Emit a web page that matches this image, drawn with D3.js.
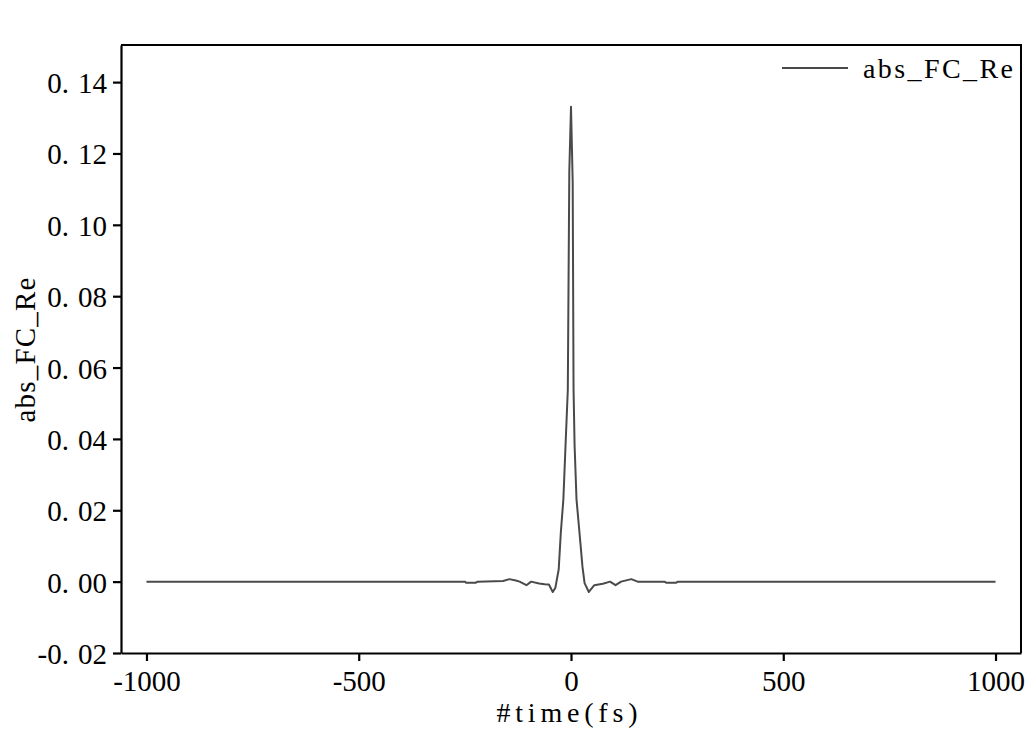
<!DOCTYPE html>
<html>
<head>
<meta charset="utf-8">
<script src="https://cdn.jsdelivr.net/npm/d3@7"></script>
<style>
  html, body { margin: 0; padding: 0; background: #fff; }
  svg { display: block; }
  text { font-family: "Liberation Serif", "DejaVu Serif", serif; fill: #000; }
</style>
</head>
<body>
<svg id="chart" width="1034" height="731"></svg>
<script>
// ---- data ----
const time = [-1000, -250, -247, -224, -220, -160, -145, -130, -121, -105, -94, -75, -62, -52, -43, -37, -29, -24, -18, -13, -7.5, -4, 0, 4, 6, 8.5, 13, 20, 27, 32, 42, 55, 75, 92, 105, 118, 142, 157, 220, 224, 248, 252, 1000];
const absFCRe = [0, 0, -0.0003, -0.0003, 0, 0.0002, 0.0007, 0.0003, 0.0000, -0.0010, 0.0000, -0.0005, -0.0007, -0.0008, -0.0029, -0.0018, 0.0034, 0.0137, 0.0230, 0.0378, 0.0538, 0.1150, 0.1331, 0.1120, 0.0540, 0.0380, 0.0230, 0.0137, 0.0042, -0.0004, -0.0029, -0.0010, -0.0006, 0.0000, -0.0010, 0.0000, 0.0007, 0.0000, 0, -0.0003, -0.0003, 0, 0];
const xTicks = [-1000, -500, 0, 500, 1000];
const yTicks = [-0.02, 0.00, 0.02, 0.04, 0.06, 0.08, 0.10, 0.12, 0.14];
const seriesName = "abs_FC_Re";
const xTitle = "#time(fs)";
const yTitle = "abs_FC_Re";

// ---- layout ----
const L = 121, R = 1021, T = 45, B = 653;
const svg = d3.select("#chart");
const x = d3.scaleLinear().domain([-1060, 1060]).range([L, R]);
const y = d3.scaleLinear().domain([-0.02, 0.1504]).range([B, T]);

// frame (top + right)
svg.append("path")
  .attr("d", `M${L},${T}H${R}V${B}`)
  .attr("fill", "none").attr("stroke", "#000").attr("stroke-width", 2);

// x axis
const gx = svg.append("g").attr("transform", `translate(0,${B})`)
  .call(d3.axisBottom(x).tickValues(xTicks).tickSize(8).tickSizeOuter(0).tickFormat(() => ""));
gx.select(".domain").attr("stroke", "#000").attr("stroke-width", 2.2);
gx.selectAll(".tick line").attr("stroke", "#000").attr("stroke-width", 2.2);
gx.selectAll(".tick").append("text")
  .attr("y", 38).attr("text-anchor", "middle")
  .style("font-size", "29px")
  .text(d => (d < 0 ? "-" : "") + Math.abs(d));

// y axis
const gy = svg.append("g").attr("transform", `translate(${L},0)`)
  .call(d3.axisLeft(y).tickValues(yTicks).tickSize(8).tickSizeOuter(0).tickFormat(() => ""));
gy.select(".domain").attr("stroke", "#000").attr("stroke-width", 2.2);
gy.selectAll(".tick line").attr("stroke", "#000").attr("stroke-width", 2.2);
gy.selectAll(".tick").each(function(d) {
  const s = d3.format(".2f")(Math.abs(d));
  const parts = s.split(".");
  const t = d3.select(this).append("text")
    .attr("x", -14).attr("dy", "0.36em").attr("text-anchor", "end")
    .style("font-size", "29px");
  t.append("tspan").text((d < -1e-9 ? "-" : "") + parts[0] + ".");
  t.append("tspan").attr("dx", 9).text(parts[1]);
});

// line
svg.append("path")
  .datum(time.map((t, i) => [t, absFCRe[i]]))
  .attr("fill", "none")
  .attr("stroke", "#4a4a4a")
  .attr("stroke-width", 2)
  .attr("stroke-linejoin", "round")
  .attr("d", d3.line().x(d => x(d[0])).y(d => y(d[1])));

// titles
svg.append("text")
  .attr("x", 567).attr("y", 722).attr("text-anchor", "middle")
  .attr("textLength", 141).attr("lengthAdjust", "spacing")
  .style("font-size", "28px").text(xTitle);
svg.append("text")
  .attr("transform", "translate(35,350) rotate(-90)")
  .attr("text-anchor", "middle")
  .attr("textLength", 145).attr("lengthAdjust", "spacing")
  .style("font-size", "29px").text(yTitle);

// legend
svg.append("line")
  .attr("x1", 782).attr("x2", 848).attr("y1", 68).attr("y2", 68)
  .attr("stroke", "#4a4a4a").attr("stroke-width", 2);
svg.append("text")
  .attr("x", 863).attr("y", 78)
  .attr("textLength", 150).attr("lengthAdjust", "spacing")
  .style("font-size", "28px").text(seriesName);
</script>
</body>
</html>
